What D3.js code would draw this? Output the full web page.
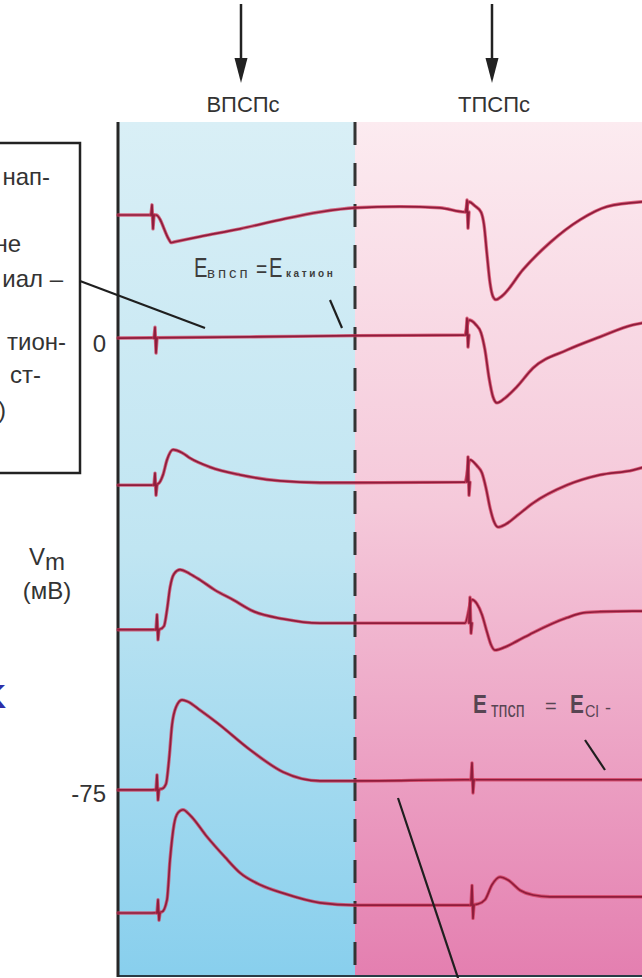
<!DOCTYPE html>
<html>
<head>
<meta charset="utf-8">
<script src="https://cdn.jsdelivr.net/npm/d3@7"></script>
<style>
  html, body { margin: 0; padding: 0; background: #ffffff; }
  svg { display: block; }
  text { font-family: "Liberation Sans", Arial, Helvetica, sans-serif; }
</style>
</head>
<body>
<svg id="fig" width="642" height="978"></svg>
<script>
// ---------- data (time in ms, membrane potential in mV) ----------
const timeDomain = [0, 131];
const voltDomain = [36.3, -106];

const stimNames = ["ВПСПс", "ТПСПс"];
const stimArrowTimes = [30.75, 93.5];
const dividerTime = 59.25;

const yTickValues = [0, -75];
const yTickLabels = ["0", "-75"];

// recorded traces, one per holding potential (top to bottom)
const trace1 = [[0,20.8],[8,20.8],[9.5,20.8],[12.75,16.7],[13.25,16.2],[14,16.3],[20.5,17.2],[30.5,18.5],[40.5,20.0],[50.5,21.3],[59.25,22.0],[70.5,22.2],[80.5,22.0],[86.75,21.3],[87.75,23.0],[89.25,22.3],[90.75,21.3],[91.5,19.2],[92.25,14.2],[93,9.5],[93.75,7.2],[94.5,6.7],[96,7.3],[101.25,11.7],[108,16.2],[115.5,20.0],[122.25,22.2],[131,23.0]];
const trace2 = [[0,0.3],[33,0.5],[59.25,0.7],[86.75,0.8],[87.75,3.3],[89.5,2.5],[90.75,1.2],[91.75,-1.7],[92.75,-6.3],[93.75,-9.5],[94.75,-10.5],[96.75,-9.7],[99.75,-7.8],[103.75,-4.7],[112.25,-1.7],[120.5,0.5],[128.75,2.5],[131,2.8]];
const trace3 = [[0,-24.2],[8.5,-24.2],[10,-24.0],[11.25,-22.5],[12.25,-20.0],[13.75,-18.3],[16,-18.8],[18,-19.7],[23,-21.2],[30.5,-22.5],[40.5,-23.5],[50.5,-23.8],[59.25,-23.8],[86.75,-23.7],[88,-20.0],[89.75,-21.0],[91,-22.2],[92,-24.7],[93,-28.0],[94,-30.3],[95,-31.2],[97,-30.7],[99.75,-29.3],[103.75,-27.2],[112.25,-24.2],[120.5,-22.5],[128.75,-21.7],[131,-21.3]];
const trace4 = [[0,-48.3],[8.5,-48.3],[10.5,-48.2],[11.5,-47.7],[12.25,-45.0],[13,-41.3],[14,-39.0],[15.5,-38.3],[18,-39.0],[20.5,-40.0],[24.25,-41.7],[28.75,-43.3],[33.75,-45.2],[41.25,-46.5],[50.5,-47.2],[59.25,-47.2],[86.75,-47.2],[88.5,-43.3],[89.75,-44.0],[91,-45.8],[92.25,-48.7],[93.25,-50.8],[94.25,-51.7],[96.75,-51.2],[99.75,-50.2],[103.75,-48.8],[112.25,-46.3],[116.25,-45.5],[120.5,-45.3],[128.75,-45.2],[131,-45.2]];
const trace5 = [[0,-75],[8.5,-75],[11,-74.8],[12,-74.0],[12.75,-70.0],[13.5,-64.2],[14.5,-61.2],[16,-60.0],[17.5,-60.3],[20.5,-61.7],[24.75,-63.8],[33,-68.3],[41.25,-72.0],[50.5,-73.5],[59.25,-73.5],[86.75,-73.3],[131,-73.3]];
const trace6 = [[0,-95.5],[8.5,-95.5],[11,-95.3],[12.25,-93.3],[13,-86.7],[14,-80.8],[15,-78.8],[16.25,-78.3],[18,-79.2],[22.25,-82.8],[26.75,-86.2],[30.5,-88.8],[35.5,-90.8],[41.25,-92.2],[50.5,-93.8],[59.25,-94.2],[88,-94.2],[90,-94.0],[91.75,-93.3],[93.5,-90.8],[95.5,-89.5],[97.5,-90.0],[100.5,-91.7],[103.75,-92.5],[108,-92.8],[131,-92.8]];
const traces = [trace1, trace2, trace3, trace4, trace5, trace6];

// stimulus artefacts: times (ms) and excursions above / below the trace (mV)
const artifactTimes = [[8.5,87.25],[9.25,87.25],[9.25,87.5],[9.75,88],[9.75,88.5],[10,88.5]];
const artifactUp    = [[1.7,2.0],[1.8,2.8],[2.0,4.2],[2.5,4.3],[2.5,2.8],[2.2,3.3]];
const artifactDown  = [[2.3,2.7],[2.5,2.0],[1.7,2.2],[1.7,1.7],[1.7,2.2],[1.2,2.2]];

// ---------- scales ----------
const svg = d3.select("#fig");
const x = d3.scaleLinear().domain(timeDomain).range([118, 642]);
const y = d3.scaleLinear().domain(voltDomain).range([122, 976]);

// ---------- background gradients ----------
const defs = svg.append("defs");
function vGrad(id, stops) {
  const g = defs.append("linearGradient").attr("id", id)
    .attr("gradientUnits", "userSpaceOnUse")
    .attr("x1", 0).attr("x2", 0).attr("y1", y(voltDomain[0])).attr("y2", y(voltDomain[1]));
  stops.forEach(s => g.append("stop").attr("offset", s[0]).attr("stop-color", s[1]));
}
vGrad("bgBlue", [[0, "#d9eff6"], [0.5, "#c0e5f2"], [1, "#88cfed"]]);
vGrad("bgPink", [[0, "#fcebf0"], [0.45, "#f5c9da"], [1, "#e47fb0"]]);

svg.append("rect")
  .attr("x", x(timeDomain[0])).attr("y", y(voltDomain[0]))
  .attr("width", x(dividerTime) - x(timeDomain[0]))
  .attr("height", y(voltDomain[1]) - y(voltDomain[0]))
  .attr("fill", "url(#bgBlue)");
svg.append("rect")
  .attr("x", x(dividerTime)).attr("y", y(voltDomain[0]))
  .attr("width", x(timeDomain[1]) - x(dividerTime))
  .attr("height", y(voltDomain[1]) - y(voltDomain[0]))
  .attr("fill", "url(#bgPink)");

// ---------- frame: left axis, bottom edge, divider ----------
svg.append("line")
  .attr("x1", x(timeDomain[0])).attr("x2", x(timeDomain[1]))
  .attr("y1", y(voltDomain[1])).attr("y2", y(voltDomain[1]))
  .attr("stroke", "#2b3b45").attr("stroke-width", 2);
svg.append("line")
  .attr("x1", x(dividerTime)).attr("x2", x(dividerTime))
  .attr("y1", y(voltDomain[0])).attr("y2", y(voltDomain[1]))
  .attr("stroke", "#333").attr("stroke-width", 3)
  .attr("stroke-dasharray", "23 18");

const yAxis = svg.append("g")
  .attr("transform", `translate(${x(timeDomain[0])},0)`)
  .call(d3.axisLeft(y).tickValues(yTickValues).tickSize(0).tickPadding(12)
    .tickFormat((d, i) => yTickLabels[i]));
yAxis.select(".domain").remove();
yAxis.selectAll("text")
  .attr("font-family", "Liberation Sans, Arial, sans-serif")
  .attr("font-size", 24).attr("fill", "#333").attr("dy", "0.5em");
svg.append("line")
  .attr("x1", x(timeDomain[0])).attr("x2", x(timeDomain[0]))
  .attr("y1", y(voltDomain[0])).attr("y2", y(voltDomain[1]) + 1)
  .attr("stroke", "#262626").attr("stroke-width", 3);

// ---------- traces ----------
const line = d3.line().x(d => x(d[0])).y(d => y(d[1])).curve(d3.curveMonotoneX);
const zig = d3.line().x(d => x(d[0])).y(d => y(d[1]));
const bisect = d3.bisector(d => d[0]).right;

const traceG = svg.append("g").attr("fill", "none")
  .attr("stroke-linejoin", "round").attr("stroke-linecap", "round");

traces.forEach((tr, i) => {
  const paths = [line(tr)];
  artifactTimes[i].forEach((t, k) => {
    const base = tr[Math.max(0, bisect(tr, t) - 1)][1];
    paths.push(zig([[t - 0.25, base], [t, base + artifactUp[i][k]],
                    [t + 0.25, base - artifactDown[i][k]], [t + 0.5, base]]));
  });
  paths.forEach(p => {
    traceG.append("path").attr("d", p).attr("stroke", "#d23a5a")
      .attr("stroke-width", 3.4).attr("stroke-opacity", 0.75);
    traceG.append("path").attr("d", p).attr("stroke", "#8e1d3c")
      .attr("stroke-width", 1.7);
  });
});

// ---------- stimulus arrows and names ----------
stimArrowTimes.forEach((t, i) => {
  const ax = x(t);
  svg.append("line").attr("x1", ax).attr("x2", ax).attr("y1", 4).attr("y2", 64)
    .attr("stroke", "#222").attr("stroke-width", 2.5);
  svg.append("path")
    .attr("d", `M${ax - 6.5},58 L${ax + 6.5},58 L${ax},83 Z`)
    .attr("fill", "#222");
  svg.append("text").attr("x", ax + 2).attr("y", 112)
    .attr("text-anchor", "middle").attr("font-size", 22).attr("fill", "#333")
    .text(stimNames[i]);
});

// ---------- y label ----------
const yLab = svg.append("text").attr("x", 47).attr("y", 565)
  .attr("text-anchor", "middle").attr("font-size", 24).attr("fill", "#333");
yLab.append("tspan").text("V");
yLab.append("tspan").attr("dy", 5).text("m");
svg.append("text").attr("x", 47).attr("y", 599)
  .attr("text-anchor", "middle").attr("font-size", 24).attr("fill", "#333")
  .text("(мВ)");

// ---------- explanatory box (partly outside the frame) ----------
svg.append("rect").attr("x", -20).attr("y", 143).attr("width", 100).attr("height", 330)
  .attr("fill", "#fff").attr("stroke", "#222").attr("stroke-width", 2.5);
const boxLines = [
  ["нап-", 50, 185], ["не", 21, 252], ["иал –", 63, 287],
  ["тион-", 66, 350], ["ст-", 41, 383], [")", 6, 418]
];
svg.append("g").selectAll("text").data(boxLines).join("text")
  .attr("x", d => d[1]).attr("y", d => d[2])
  .attr("text-anchor", "end").attr("font-size", 24).attr("fill", "#333")
  .text(d => d[0]);

// blue margin mark
svg.append("text").attr("x", 6).attr("y", 708).attr("text-anchor", "end")
  .attr("font-size", 34).attr("font-weight", "bold").attr("fill", "#2e2ea8").text("K");

// ---------- annotations ----------
const ink = "#1f1f1f";
function pointer(x1, y1, x2, y2) {
  svg.append("line").attr("x1", x1).attr("y1", y1).attr("x2", x2).attr("y2", y2)
    .attr("stroke", ink).attr("stroke-width", 2.2);
}
pointer(80, 281, 205, 328);
pointer(330, 300, 342, 328);
pointer(585, 740, 605, 770);
pointer(398, 798, 462, 990);

function glyph(txt, gx, gy, size, opts = {}) {
  const t = svg.append("text")
    .attr("transform", `translate(${gx},${gy}) scale(${opts.sx || 1},1)`)
    .attr("font-size", size).attr("fill", opts.fill || "#3d3d3d")
    .attr("font-weight", opts.bold ? "bold" : "normal")
    .text(txt);
  if (opts.ls) t.attr("letter-spacing", opts.ls);
  return t;
}
// E(впсп) = E(катион)
glyph("E", 194, 277, 28, { sx: 0.72 });
glyph("впсп", 207, 278, 15, { ls: 3 });
glyph("=", 256, 277, 24, { sx: 0.8 });
glyph("E", 269, 277, 28, { sx: 0.72 });
glyph("катион", 286, 277, 10, { bold: true, ls: 2.6 });

// E(тпсп) = E(Cl-)
const pinkInk = "#574552";
glyph("E", 473, 713, 26, { sx: 0.8, bold: true, fill: pinkInk });
glyph("тпсп", 491, 717, 22, { sx: 0.75, fill: pinkInk });
glyph("=", 545, 713, 20, { fill: pinkInk });
glyph("E", 570, 713, 26, { sx: 0.8, bold: true, fill: pinkInk });
glyph("Cl", 585, 717, 16, { sx: 0.9, fill: pinkInk });
glyph("-", 605, 714, 18, { fill: pinkInk });
</script>
</body>
</html>
